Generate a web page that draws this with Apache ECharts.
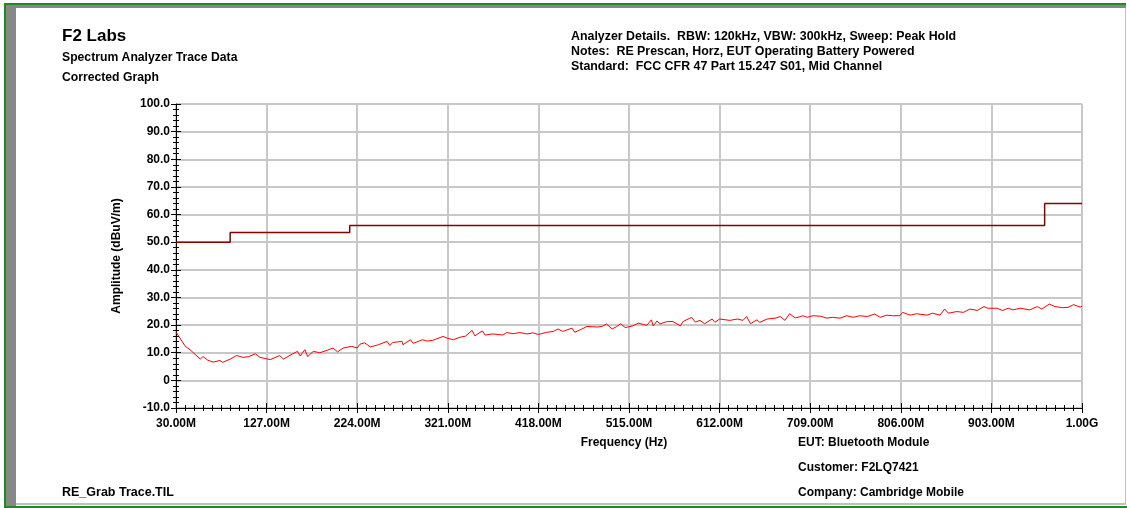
<!DOCTYPE html>
<html>
<head>
<meta charset="utf-8">
<script src="https://cdn.jsdelivr.net/npm/echarts@6/dist/echarts.min.js"></script>
<style>
html,body{margin:0;padding:0;background:#fff;}
#chart{width:1127px;height:508px;}
</style>
</head>
<body>
<div id="chart"></div>
<script>
// ---- Data ----
const traceFreqMHz = [30,40,45,56,59,64,70,77,80,88,95,102,108,115,120,131,141,145,155,160,163,168,171,177,184,192,198,203,209,218,224,227,232,238,246,256,259,262,272,273,281,284,294,299,305,316,320,327,334,340,347,350,358,361,369,380,384,391,398,406,412,418,420,427,434,439,444,454,457,464,470,481,486,491,497,502,506,511,519,525,534,539,541,545,548,556,562,570,573,582,586,591,596,604,607,612,623,631,637,641,645,652,655,663,673,677,682,687,693,698,701,706,712,720,727,733,741,748,755,762,770,778,784,791,797,805,808,816,823,834,840,848,853,857,866,873,880,888,895,899,909,915,921,926,934,944,952,957,965,971,979,985,991,998,1000];
const traceAmp = [17.5,12.3,11.1,7.7,8.6,7.3,6.6,7.2,6.5,7.7,9.0,8.3,8.6,9.6,8.3,7.5,9.0,7.7,9.6,10.5,8.8,11.1,8.6,10.5,10.0,10.9,11.7,10.3,11.7,12.3,11.7,13.1,13.6,12.1,12.8,14.1,12.6,13.7,14.1,12.9,14.7,13.4,14.7,14.2,14.5,15.9,15.3,14.7,15.6,16.0,18.1,16.1,17.9,16.4,16.8,16.4,17.3,16.9,17.3,16.8,17.2,16.6,16.5,17.4,17.7,18.6,17.7,18.9,17.4,18.5,19.5,19.3,19.5,20.4,18.6,19.5,20.5,19.1,19.7,20.7,19.9,21.9,19.7,21.5,20.4,21.3,21.3,19.7,21.3,22.8,21.1,21.7,20.5,22.2,21.0,22.2,21.7,22.2,21.7,23.1,20.5,21.9,21.0,22.2,22.6,23.1,21.7,24.1,22.6,23.0,23.4,22.8,23.4,23.2,22.5,22.8,22.5,23.4,22.8,23.4,23.1,24.0,22.8,23.6,23.4,23.4,24.6,23.6,24.1,23.6,24.3,23.6,25.8,24.3,24.9,24.6,25.8,25.3,26.7,26.1,26.1,25.3,26.1,25.5,26.1,25.5,26.7,25.8,27.6,26.7,26.3,26.4,27.4,26.5,26.8];
const limitFreqMHz = [30,88,88,216,216,960,960,1000];
const limitAmp = [50,50,53.5,53.5,56,56,64,64];
const xTickLabelsMHz = [30,127,224,321,418,515,612,709,806,903,1000];
const yTicks = [-10,0,10,20,30,40,50,60,70,80,90,100];

const X0 = 30; // start frequency, used as axis origin offset
const FONT = 'Liberation Sans';

const chart = echarts.init(document.getElementById('chart'), null, {renderer:'canvas'});

function fmtX(v){
  const f = Math.round(v + X0);
  if (f >= 1000) return (f/1000).toFixed(2) + 'G';
  return f.toFixed(2) + 'M';
}
function fmtY(v){ return v === 0 ? '0' : v.toFixed(1); }

const traceData = traceFreqMHz.map((f,i)=>[f - X0, traceAmp[i]]);
const limitData = limitFreqMHz.map((f,i)=>[f - X0, limitAmp[i]]);

const xMax = xTickLabelsMHz[xTickLabelsMHz.length-1] - X0;
const xInt = xTickLabelsMHz[1] - xTickLabelsMHz[0];

const txt = (x,y,s,size,extra) => Object.assign({
  type:'text', x:x, y:y,
  style:{text:s, fill:'#000', font:'bold '+size+'px "'+FONT+'"', textVerticalAlign:'middle'}
}, extra||{});

const option = {
  animation:false,
  backgroundColor:'#fff',
  grid:{left:176, right:45, top:104, bottom:100, containLabel:false},
  xAxis:[{
    type:'value', position:'bottom', min:0, max:xMax, interval:xInt,
    axisLine:{show:true, onZero:false, lineStyle:{color:'#000', width:1}},
    axisTick:{show:true, inside:false, length:5, lineStyle:{color:'#000'}},
    minorTick:{show:true, splitNumber:10, length:3, lineStyle:{color:'#000'}},
    axisLabel:{show:true, margin:10, formatter:fmtX, color:'#000', fontFamily:FONT, fontWeight:'bold', fontSize:12, showMinLabel:true, showMaxLabel:true},
    splitLine:{show:true, lineStyle:{color:'#c8c8c8', width:2}}
  },{
    type:'value', position:'bottom', min:0, max:xMax, interval:xInt,
    axisLine:{show:false, onZero:false},
    axisTick:{show:true, inside:true, length:5, lineStyle:{color:'#000'}},
    minorTick:{show:true, splitNumber:10, length:3, lineStyle:{color:'#000'}},
    axisLabel:{show:false}, splitLine:{show:false}
  }],
  yAxis:[{
    type:'value', position:'left', min:-10, max:100, interval:10,
    axisLine:{show:true, onZero:false, lineStyle:{color:'#000', width:1}},
    axisTick:{show:true, inside:false, length:5, lineStyle:{color:'#000'}},
    minorTick:{show:true, splitNumber:5, length:3, lineStyle:{color:'#000'}},
    axisLabel:{show:true, margin:6, formatter:fmtY, color:'#000', fontFamily:FONT, fontWeight:'bold', fontSize:12},
    splitLine:{show:true, lineStyle:{color:'#c8c8c8', width:2}},
    name:'Amplitude (dBuV/m)', nameLocation:'middle', nameRotate:90, nameGap:53,
    nameTextStyle:{color:'#000', fontFamily:FONT, fontWeight:'bold', fontSize:12}
  },{
    type:'value', position:'left', min:-10, max:100, interval:10,
    axisLine:{show:false, onZero:false},
    axisTick:{show:true, inside:true, length:5, lineStyle:{color:'#000'}},
    minorTick:{show:true, splitNumber:5, length:3, lineStyle:{color:'#000'}},
    axisLabel:{show:false}, splitLine:{show:false}
  }],
  series:[{
    name:'Limit', type:'line', xAxisIndex:0, yAxisIndex:0, data:limitData,
    showSymbol:false, symbol:'none', lineStyle:{color:'#8b0000', width:1.5}, z:3
  },{
    name:'Trace', type:'line', xAxisIndex:0, yAxisIndex:0, data:traceData,
    showSymbol:false, symbol:'none', lineStyle:{color:'#ff0000', width:1}, z:4
  }],
  graphic:[
    // frame
    {type:'rect', shape:{x:4, y:3, width:1122, height:2}, style:{fill:'#1f8a1f'}},
    {type:'rect', shape:{x:4, y:3, width:2, height:505}, style:{fill:'#1f8a1f'}},
    {type:'rect', shape:{x:4, y:506, width:1123, height:2}, style:{fill:'#1f8a1f'}},
    {type:'rect', shape:{x:6, y:5, width:1120, height:3}, style:{fill:'#888888'}},
    {type:'rect', shape:{x:6, y:5, width:10, height:501}, style:{fill:'#888888'}},
    {type:'rect', shape:{x:16, y:503, width:1110, height:2}, style:{fill:'#c0c0c0'}},
    {type:'rect', shape:{x:1125, y:8, width:1, height:497}, style:{fill:'#c0c0c0'}},
    // header texts
    txt(62, 36, 'F2 Labs', 17),
    txt(62, 58, 'Spectrum Analyzer Trace Data', 12.2),
    txt(62, 78, 'Corrected Graph', 12.2),
    txt(571, 37, 'Analyzer Details.  RBW: 120kHz, VBW: 300kHz, Sweep: Peak Hold', 12.4),
    txt(571, 52, 'Notes:  RE Prescan, Horz, EUT Operating Battery Powered', 12.4),
    txt(571, 67, 'Standard:  FCC CFR 47 Part 15.247 S01, Mid Channel', 12.4),
    // footer texts
    {type:'text', x:624, y:443, style:{text:'Frequency (Hz)', fill:'#000', font:'bold 12px "'+FONT+'"', textAlign:'center', textVerticalAlign:'middle'}},
    txt(798, 443, 'EUT: Bluetooth Module', 12),
    txt(798, 468, 'Customer: F2LQ7421', 12),
    txt(798, 493, 'Company: Cambridge Mobile', 12),
    txt(62, 493, 'RE_Grab Trace.TIL', 12.5)
  ]
};
chart.setOption(option);
</script>
</body>
</html>
